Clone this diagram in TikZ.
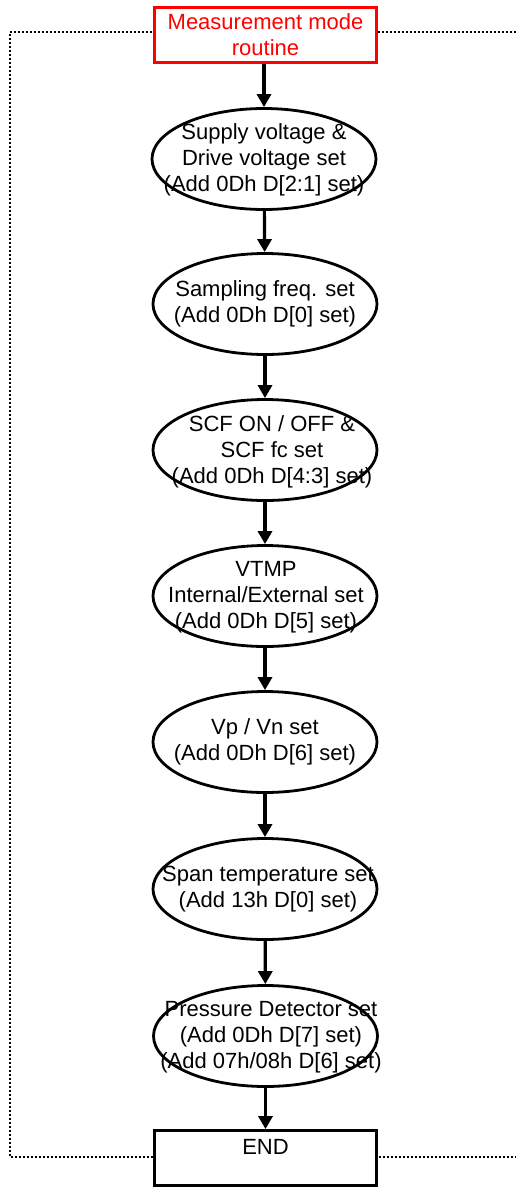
\documentclass[tikz,border=0pt]{standalone}
\usepackage{fontspec}
\setmainfont{Liberation Sans}
\usetikzlibrary{shapes.geometric,arrows.meta}
\begin{document}
\begin{tikzpicture}[x=1pt,y=-1pt,
  every node/.style={font=\fontsize{22}{26}\selectfont},
  stepoval/.style={ellipse,draw=black,line width=2.8pt,fill=white,minimum width=224pt,minimum height=101pt,inner sep=0pt},
  stepbox/.style={rectangle,draw=black,line width=2.8pt,fill=white,minimum width=222pt,minimum height=55pt,inner sep=0pt},
  txt/.style={align=center,inner sep=0pt},
  flow/.style={line width=3.2pt,-{Triangle[length=13pt,width=14pt]}},
  frame/.style={line width=1.8pt,dash pattern=on 1.8pt off 2.2pt}]
\useasboundingbox (0,0) rectangle (515,1187);
% dotted frame (right side lies beyond the picture)
\draw[frame] (540,32) -- (10,32) -- (10,1157) -- (540,1157);
% top box
\node[stepbox,draw=red] (start) at (265.5,35) {};
\node[txt,text=red] (starttxt) at (265.5,35) {Measurement mode\\routine};
% ellipses
\node[stepoval] (e1) at (264,159) {};
\node[txt] (t1) at (264,160) {Supply voltage \&\\Drive voltage set\\(Add 0Dh D[2:1] set)};
\node[stepoval] (e2) at (265,304) {};
\node[txt] (t2) at (265,304) {Sampling freq. set\\(Add 0Dh D[0] set)};
\node[stepoval] (e3) at (265,450) {};
\node[txt] (t3) at (272,452) {SCF ON / OFF \&\\SCF fc set\\(Add 0Dh D[4:3] set)};
\node[stepoval] (e4) at (265,596) {};
\node[txt] (t4) at (266,597) {VTMP\\Internal/External set\\(Add 0Dh D[5] set)};
\node[stepoval] (e5) at (265,742) {};
\node[txt] (t5) at (265,742) {Vp / Vn set\\(Add 0Dh D[6] set)};
\node[stepoval] (e6) at (265,889) {};
\node[txt] (t6) at (268,889) {Span temperature set\\(Add 13h D[0] set)};
\node[stepoval] (e7) at (265.5,1036) {};
\node[txt] (t7) at (271,1037) {Pressure Detector set\\(Add 0Dh D[7] set)\\(Add 07h/08h D[6] set)};
% end box
\node[stepbox] (stop) at (265.5,1158) {};
\node[txt] (stoptxt) at (265.5,1147) {END};
% connectors
\draw[flow] (start.south -| e1.north) -- (e1.north);
\draw[flow] (e1) -- (e2);
\draw[flow] (e2) -- (e3);
\draw[flow] (e3) -- (e4);
\draw[flow] (e4) -- (e5);
\draw[flow] (e5) -- (e6);
\draw[flow] (e6) -- (e7);
\draw[flow] (e7.south) -- (e7.south |- stop.north);
\end{tikzpicture}
\end{document}
